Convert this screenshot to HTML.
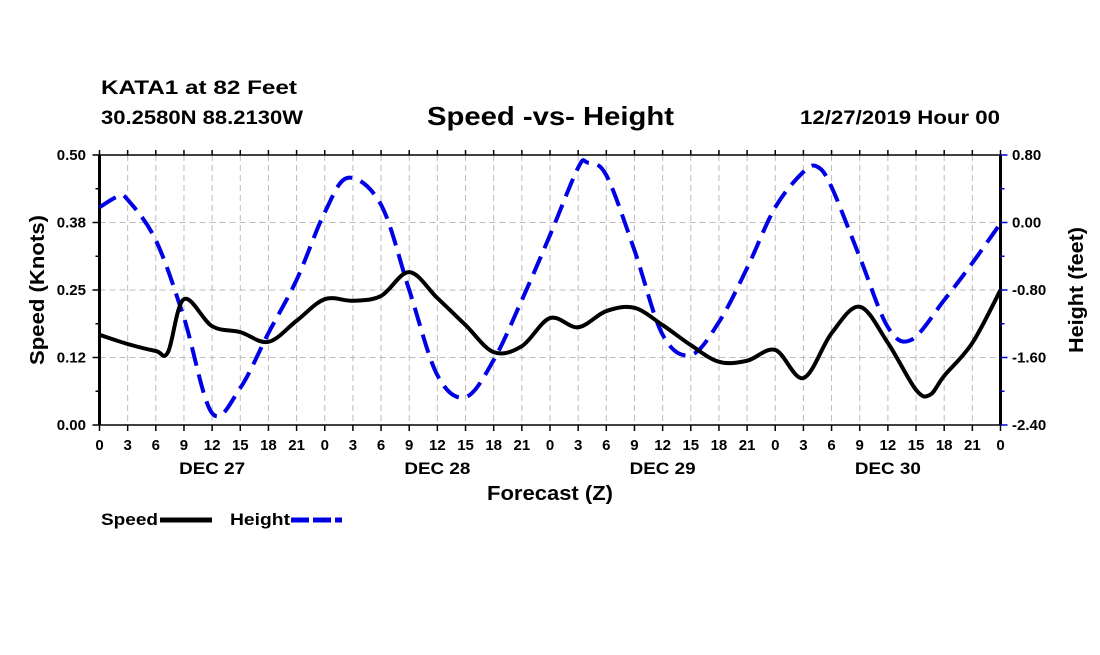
<!DOCTYPE html>
<html><head><meta charset="utf-8"><style>
body{margin:0;background:#fff;width:1100px;height:650px;overflow:hidden}
svg{font-family:"Liberation Sans",sans-serif;font-weight:bold}
</style></head><body>
<svg id="c" width="1100" height="650">
<text x="101" y="94" font-size="19" textLength="196" lengthAdjust="spacingAndGlyphs">KATA1 at 82 Feet</text>
<text x="101" y="124" font-size="19" textLength="202" lengthAdjust="spacingAndGlyphs">30.2580N 88.2130W</text>
<text x="427" y="125" font-size="26" textLength="247" lengthAdjust="spacingAndGlyphs">Speed -vs- Height</text>
<text x="800" y="124" font-size="19" textLength="200" lengthAdjust="spacingAndGlyphs">12/27/2019 Hour 00</text>
<text x="487" y="500" font-size="20" textLength="126" lengthAdjust="spacingAndGlyphs">Forecast (Z)</text>
<text transform="translate(44,290) rotate(-90)" font-size="20" text-anchor="middle" textLength="150" lengthAdjust="spacingAndGlyphs">Speed (Knots)</text>
<text transform="translate(1083,290) rotate(-90)" font-size="20" text-anchor="middle" textLength="126" lengthAdjust="spacingAndGlyphs">Height (feet)</text>
<g>
<text x="101" y="525" font-size="17" textLength="57" lengthAdjust="spacingAndGlyphs">Speed</text>
<line x1="160" y1="520" x2="212" y2="520" stroke="#000" stroke-width="5"/>
<text x="230" y="525" font-size="17" textLength="60" lengthAdjust="spacingAndGlyphs">Height</text>
<line x1="291" y1="520" x2="342" y2="520" stroke="#0000e6" stroke-width="5" stroke-dasharray="18,4"/>
</g>
</svg>
<script>
const speedHours=[0,3,6,7.3,9,12,15,18,21,24,27,30,33,36,39,42,45,48,51,54,57,60,63,66,69,72,75,78,81,84,87,88.5,90,93,96];
const speedValues=[0.167,0.150,0.137,0.135,0.233,0.183,0.172,0.154,0.193,0.233,0.230,0.239,0.283,0.235,0.185,0.135,0.146,0.198,0.181,0.211,0.217,0.185,0.148,0.117,0.119,0.139,0.087,0.170,0.219,0.152,0.065,0.056,0.091,0.152,0.250];
const heightHours=[0,2,3,6,9,12,15,18,21,24,26.5,30,33,36,39,42,45,48,51,52,54,57,60,63,66,69,72,75,76.5,78,81,84,86.5,90,93,96];
const heightValues=[0.18,0.31,0.27,-0.21,-1.13,-2.26,-1.96,-1.31,-0.68,0.12,0.53,0.21,-0.80,-1.81,-2.07,-1.63,-0.92,-0.15,0.65,0.71,0.56,-0.33,-1.33,-1.57,-1.18,-0.54,0.18,0.60,0.66,0.42,-0.41,-1.24,-1.39,-0.92,-0.48,-0.01];
const leftTicks=["0.00","0.12","0.25","0.38","0.50"];
const rightTicks=["-2.40","-1.60","-0.80","0.00","0.80"];
const hourLabels=["0","3","6","9","12","15","18","21"];
const dayLabels=["DEC 27","DEC 28","DEC 29","DEC 30"];

const X0=99.5,X1=1000.5,Y0=425,Y1=155;
const xs=h=>X0+(X1-X0)*h/96;
const ysL=v=>Y0-(Y0-Y1)*v/0.5;
const ysR=v=>Y0-(Y0-Y1)*(v+2.4)/3.2;
const svg=document.getElementById('c');
const NS='http://www.w3.org/2000/svg';
function mk(t,a,p){const e=document.createElementNS(NS,t);for(const k in a)e.setAttribute(k,a[k]);(p||svg).appendChild(e);return e;}

const grid=mk('g',{});


for(let h=3;h<96;h+=3){const l=mk('line',{x1:xs(h),x2:xs(h),y1:Y1,y2:Y0,stroke:'#bbb','stroke-width':1,'stroke-dasharray':'6,4'},grid);

}
for(let i=1;i<4;i++){const y=ysL(i*0.125);const l=mk('line',{x1:X0,x2:X1,y1:y,y2:y,stroke:'#bbb','stroke-width':1,'stroke-dasharray':'6,4'},grid);

}

const ax=mk('g',{});


mk('line',{x1:X0,x2:X1,y1:Y1,y2:Y1,stroke:'#000','stroke-width':1.5},ax);
mk('line',{x1:X0,x2:X1,y1:Y0,y2:Y0,stroke:'#000','stroke-width':1.5},ax);
mk('line',{x1:X0,x2:X0,y1:Y1,y2:Y0,stroke:'#000','stroke-width':3},ax);
mk('line',{x1:X1,x2:X1,y1:Y1,y2:Y0,stroke:'#000','stroke-width':3},ax);
for(let h=0;h<=96;h+=3){const x=xs(h);
mk('line',{x1:x,x2:x,y1:Y0,y2:Y0+6,stroke:'#000','stroke-width':1.5},ax);
mk('line',{x1:x,x2:x,y1:Y1,y2:Y1-5,stroke:'#000','stroke-width':1.5},ax);
const t=mk('text',{x:x,y:450,'font-size':15,'text-anchor':'middle'},ax);t.textContent=hourLabels[(h/3)%8];

}
dayLabels.forEach((d,i)=>{const t=mk('text',{x:xs(12+24*i),y:474,'font-size':17,'text-anchor':'middle',textLength:66,lengthAdjust:'spacingAndGlyphs'},ax);t.textContent=d;

});
for(let i=0;i<=8;i++){const y=Y0-(Y0-Y1)*i/8;const len=i%2?4:7;
mk('line',{x1:X0-len,x2:X0,y1:y,y2:y,stroke:'#000','stroke-width':1.5},ax);
mk('line',{x1:X1,x2:X1+len,y1:y,y2:y,stroke:'#00c','stroke-width':1.5},ax);}
leftTicks.forEach((s,i)=>{const t=mk('text',{x:86,y:ysL(i*0.125)+5,'font-size':15,'text-anchor':'end'},ax);t.textContent=s;

});
rightTicks.forEach((s,i)=>{const t=mk('text',{x:1012,y:ysR(-2.4+i*0.8)+5,'font-size':15},ax);t.textContent=s;

});

function path(hs,vs,fy){const p=hs.map((h,i)=>[xs(h),fy(vs[i])]);let d='M'+p[0][0]+','+p[0][1];
for(let i=0;i<p.length-1;i++){const a=p[Math.max(0,i-1)],b=p[i],c=p[i+1],e=p[Math.min(p.length-1,i+2)];
const c1=[b[0]+(c[0]-a[0])/6,b[1]+(c[1]-a[1])/6],c2=[c[0]-(e[0]-b[0])/6,c[1]-(e[1]-b[1])/6];
d+=` C${c1[0]},${c1[1]} ${c2[0]},${c2[1]} ${c[0]},${c[1]}`;}return d;}
const hl=mk('path',{d:path(heightHours,heightValues,ysR),fill:'none',stroke:'#0000e6','stroke-width':4,'stroke-dasharray':'19,9'});


const sl=mk('path',{d:path(speedHours,speedValues,ysL),fill:'none',stroke:'#000','stroke-width':4,'stroke-linejoin':'round'});


</script>
</body></html>
